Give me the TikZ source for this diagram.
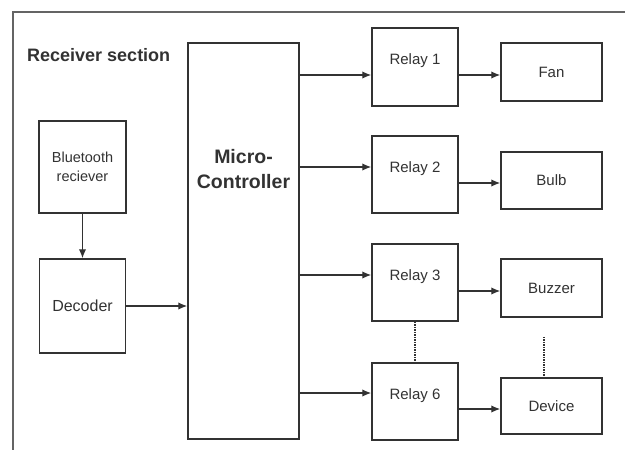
\documentclass[tikz,border=0pt]{standalone}
\usepackage{fontspec}
\setmainfont{Liberation Sans}
\usetikzlibrary{arrows.meta,positioning}
\definecolor{ink}{RGB}{50,50,50}
\definecolor{frame}{RGB}{100,100,100}

\begin{document}
\begin{tikzpicture}[x=1pt,y=-1pt,>={Latex[length=9pt,width=7.5pt]},
 box/.style={draw=ink,line width=1.5pt,text=ink,inner sep=0pt,align=center,font=\fontsize{15}{17}\selectfont},
 relaybox/.style={box,minimum width=86pt,minimum height=77pt,text depth=15pt},
 outbox/.style={box,minimum width=101pt,minimum height=57pt},
 link/.style={->,draw=ink,line width=1.4pt},
 dots/.style={draw=ink,line width=1.4pt,dash pattern=on 1.5pt off 1pt}]
\useasboundingbox (0,0) rectangle (625,450);
\draw[frame,line width=1.4pt] (625,12) -- (13,12) -- (13,450);
\node[anchor=base west,inner sep=0pt,text=ink,font=\bfseries\fontsize{18}{21}\selectfont] (title) at (27,61) {Receiver section};
% input side
\node[box,minimum width=87pt,minimum height=92pt,font=\fontsize{14.5}{19}\selectfont] (bt) at (82.5,167) {Bluetooth\\reciever};
\node[box,minimum width=86pt,minimum height=94pt,font=\fontsize{16}{18}\selectfont] (dec) at (82.5,306) {Decoder};
\node[box,minimum width=111pt,minimum height=396pt,
 label={[anchor=north,yshift=-104pt,text=ink,align=center,font=\bfseries\fontsize{19.5}{25}\selectfont]north:Micro-\\Controller}] (mc) at (243.5,241) {};
\draw[link] (bt) -- (dec);
\draw[link] (dec) -- (dec -| mc.west);
% relays
\node[relaybox,minimum height=78pt] (r1) at (415,67) {Relay 1};
\node[relaybox] (r2) at (415,174.5) {Relay 2};
\node[relaybox] (r3) at (415,282.5) {Relay 3};
\node[relaybox] (r6) at (415,401.5) {Relay 6};
% loads
\node[outbox,minimum height=58pt] (fan) at (551.5,72) {Fan};
\node[outbox] (bulb) at (551.5,180.5) {Bulb};
\node[outbox,minimum height=58pt] (buzz) at (551.5,288) {Buzzer};
\node[outbox,minimum height=56pt] (dev) at (551.5,406) {Device};
\draw[link] ([yshift=-8pt]r1.west -| mc.east) -- ([yshift=-8pt]r1.west);
\draw[link] ([yshift=7.5pt]r2.west -| mc.east) -- ([yshift=7.5pt]r2.west);
\draw[link] ([yshift=7.5pt]r3.west -| mc.east) -- ([yshift=7.5pt]r3.west);
\draw[link] ([yshift=8.5pt]r6.west -| mc.east) -- ([yshift=8.5pt]r6.west);
\draw[link] ([yshift=-3pt]fan.west -| r1.east) -- ([yshift=-3pt]fan.west);
\draw[link] ([yshift=-2.5pt]bulb.west -| r2.east) -- ([yshift=-2.5pt]bulb.west);
\draw[link] ([yshift=-3pt]buzz.west -| r3.east) -- ([yshift=-3pt]buzz.west);
\draw[link] ([yshift=-3pt]dev.west -| r6.east) -- ([yshift=-3pt]dev.west);
\draw[dots] (r3) -- (r6);
\draw[dots] ([xshift=-7.5pt,yshift=-19pt]buzz.south) -- ([xshift=-7.5pt]dev.north);
\end{tikzpicture}
\end{document}
